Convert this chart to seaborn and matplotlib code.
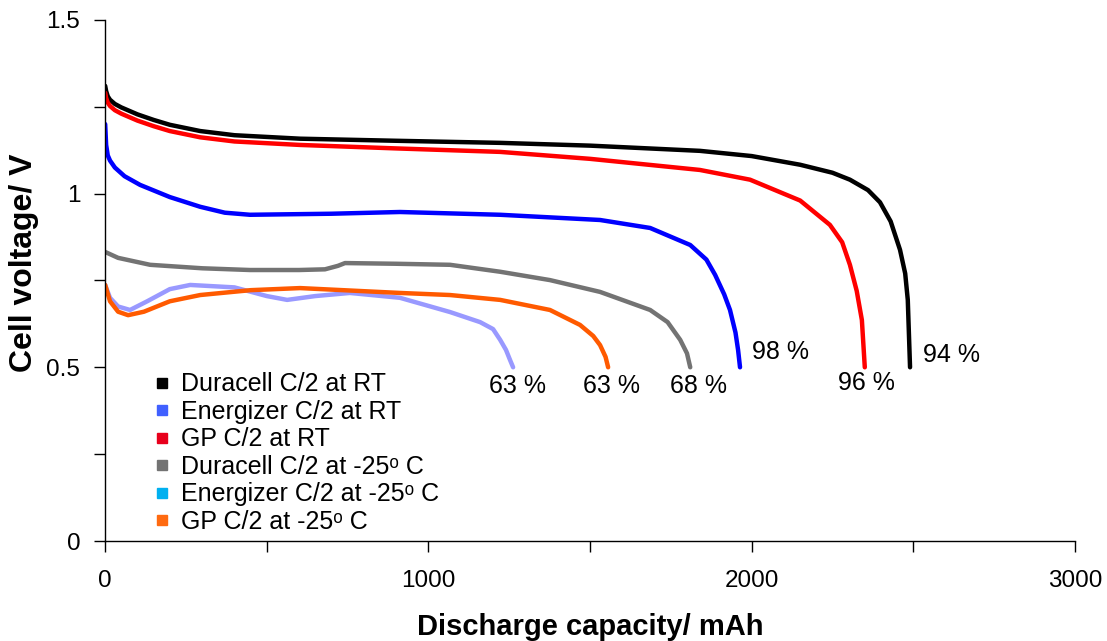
import numpy as np
import pandas as pd
import matplotlib
matplotlib.use("Agg")
import matplotlib.pyplot as plt
from matplotlib.lines import Line2D
from matplotlib.ticker import MultipleLocator
import seaborn as sns

# Discharge curves (capacity in mAh, voltage in V)
duracell_rt_cap = [0, 3, 8, 15, 30, 50, 100, 150, 200, 294, 400, 603, 900, 1222, 1500, 1840, 2000, 2150, 2250, 2304, 2360, 2397, 2430, 2459, 2475, 2483, 2490]
duracell_rt_v = [1.31, 1.295, 1.28, 1.27, 1.258, 1.248, 1.228, 1.212, 1.198, 1.18, 1.168, 1.158, 1.152, 1.146, 1.138, 1.123, 1.108, 1.083, 1.06, 1.04, 1.01, 0.975, 0.92, 0.838, 0.77, 0.694, 0.5]

gp_rt_cap = [0, 3, 8, 15, 30, 50, 100, 150, 200, 294, 400, 603, 900, 1222, 1500, 1840, 1995, 2150, 2242, 2280, 2304, 2325, 2341, 2350]
gp_rt_v = [1.29, 1.275, 1.262, 1.252, 1.24, 1.23, 1.21, 1.194, 1.18, 1.162, 1.15, 1.14, 1.13, 1.12, 1.10, 1.068, 1.04, 0.98, 0.91, 0.86, 0.795, 0.72, 0.636, 0.5]

energizer_rt_cap = [0, 3, 8, 15, 30, 60, 108, 200, 294, 370, 448, 700, 912, 1222, 1531, 1686, 1810, 1860, 1887, 1915, 1933, 1950, 1958, 1964]
energizer_rt_v = [1.20, 1.14, 1.11, 1.095, 1.075, 1.05, 1.025, 0.99, 0.962, 0.945, 0.939, 0.942, 0.947, 0.939, 0.924, 0.901, 0.852, 0.81, 0.766, 0.71, 0.665, 0.6, 0.55, 0.5]

duracell_lt_cap = [0, 40, 139, 300, 448, 600, 680, 720, 742, 900, 1067, 1222, 1376, 1531, 1686, 1740, 1779, 1800, 1810]
duracell_lt_v = [0.832, 0.815, 0.795, 0.785, 0.78, 0.78, 0.782, 0.792, 0.80, 0.798, 0.795, 0.775, 0.751, 0.717, 0.665, 0.63, 0.579, 0.54, 0.5]

energizer_lt_cap = [0, 15, 40, 77, 130, 200, 263, 400, 500, 563, 650, 757, 912, 1067, 1160, 1200, 1222, 1240, 1253, 1262]
energizer_lt_v = [0.737, 0.70, 0.675, 0.665, 0.69, 0.725, 0.737, 0.73, 0.705, 0.694, 0.705, 0.714, 0.70, 0.659, 0.63, 0.61, 0.579, 0.55, 0.52, 0.5]

gp_lt_cap = [0, 15, 40, 71, 120, 200, 294, 450, 603, 912, 1067, 1222, 1376, 1469, 1510, 1531, 1548, 1556]
gp_lt_v = [0.737, 0.69, 0.66, 0.65, 0.66, 0.69, 0.708, 0.722, 0.728, 0.714, 0.708, 0.694, 0.665, 0.622, 0.59, 0.564, 0.53, 0.5]

sup_o = "\u1d52"
series_names = ["Duracell C/2 at RT", "Energizer C/2 at RT", "GP C/2 at RT",
                f"Duracell C/2 at -25{sup_o} C", f"Energizer C/2 at -25{sup_o} C",
                f"GP C/2 at -25{sup_o} C"]
series_caps = [duracell_rt_cap, energizer_rt_cap, gp_rt_cap, duracell_lt_cap, energizer_lt_cap, gp_lt_cap]
series_volts = [duracell_rt_v, energizer_rt_v, gp_rt_v, duracell_lt_v, energizer_lt_v, gp_lt_v]
line_colors = ["#000000", "#0000ff", "#ff0000", "#737373", "#9999ff", "#ff5a00"]
legend_colors = ["#000000", "#4060ff", "#e8001c", "#737373", "#00b0f0", "#ff6a10"]

# utilisation labels: text, capacity, voltage
pct_labels = ["94 %", "96 %", "98 %", "68 %", "63 %", "63 %"]
pct_x = [2530, 2267, 2001, 1748, 1478, 1188]
pct_y = [0.536, 0.455, 0.544, 0.446, 0.446, 0.446]

y_ticks = [0, 0.5, 1, 1.5]
y_ticklabels = ["0", "0.5", "1", "1.5"]
x_ticks = [0, 1000, 2000, 3000]

df = pd.concat([pd.DataFrame({"cap": c, "v": v, "series": n})
                for n, c, v in zip(series_names, series_caps, series_volts)])

sns.set_style("ticks")
plt.rcParams["font.family"] = ["Liberation Sans", "DejaVu Sans"]
plt.rcParams["text.color"] = "black"
plt.rcParams["axes.labelcolor"] = "black"
plt.rcParams["xtick.color"] = "black"
plt.rcParams["ytick.color"] = "black"

fig, ax = plt.subplots(figsize=(11.07, 6.41), dpi=100)
fig.subplots_adjust(left=0.095, right=0.971, bottom=0.156, top=0.969)

sns.lineplot(data=df, x="cap", y="v", hue="series", hue_order=series_names,
             palette=dict(zip(series_names, line_colors)), sort=False,
             linewidth=3.2, legend=False, ax=ax)

for t, x, y in zip(pct_labels, pct_x, pct_y):
    ax.text(x, y, t, fontsize=18, ha="left", va="center", color="black")

handles = [Line2D([], [], marker="s", linestyle="", color=c, markersize=7) for c in legend_colors]
leg = ax.legend(handles, series_names, loc="lower left", bbox_to_anchor=(0.03, -0.015),
                frameon=False, fontsize=18, handletextpad=0.25, labelspacing=0.14,
                handlelength=1, borderaxespad=0.2)

ax.set_xlim(0, 3000)
ax.set_ylim(0, 1.5)
ax.set_xticks(x_ticks)
ax.set_yticks(y_ticks, y_ticklabels)
ax.xaxis.set_minor_locator(MultipleLocator(500))
ax.yaxis.set_minor_locator(MultipleLocator(0.25))
ax.tick_params(which="both", length=8, width=1, direction="out", color="black")
ax.tick_params(axis="y", labelsize=17.5, pad=10)
ax.tick_params(axis="x", labelsize=17.5, pad=13)
for s in ["left", "bottom"]:
    ax.spines[s].set_linewidth(1)
    ax.spines[s].set_color("black")
sns.despine(ax=ax)

ax.set_xlabel("Discharge capacity/ mAh", fontsize=21, fontweight="bold", labelpad=15)
ax.set_ylabel("Cell voltage/ V", fontsize=23, fontweight="bold")
ax.yaxis.set_label_coords(-0.068, 0.534)

plt.savefig("out.png", dpi=100)
